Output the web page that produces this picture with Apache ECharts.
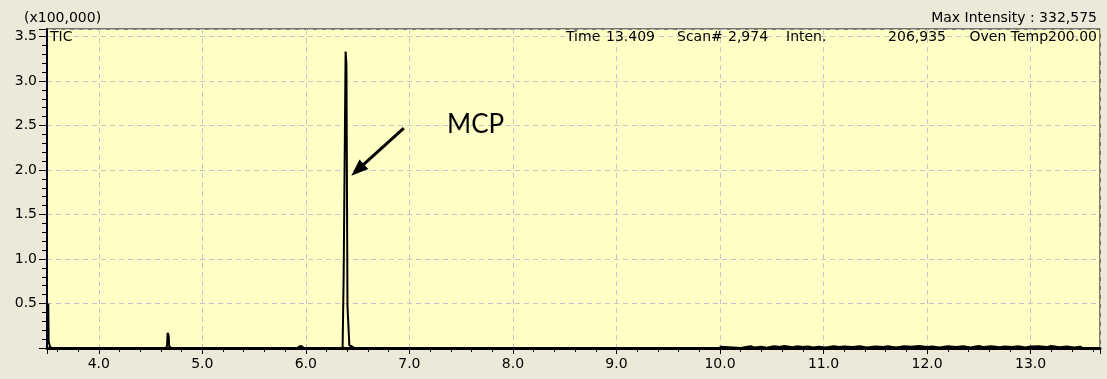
<!DOCTYPE html>
<html>
<head>
<meta charset="utf-8">
<script src="https://cdn.jsdelivr.net/npm/echarts@6/dist/echarts.min.js"></script>
<style>
html,body{margin:0;padding:0;background:#ECE9D8;}
#c{width:1107px;height:379px;}
</style>
</head>
<body>
<div id="c"></div>
<script>
// Retention time (min)
const times = [
  3.512, 3.516, 3.522, 3.530, 3.550, 3.800, 4.300, 4.600, 4.650, 4.660, 4.665, 4.670, 4.675, 4.680, 4.690, 4.700,
  5.500, 5.920, 5.940, 5.950, 5.960, 5.980, 6.355, 6.365, 6.375, 6.384, 6.392, 6.402, 6.412, 6.420, 6.440, 6.452,
  6.470, 7.000, 8.000, 9.990, 10.000, 10.010, 10.020, 10.200,
  10.210, 10.250, 10.300, 10.330, 10.400, 10.450, 10.520, 10.580, 10.620, 10.700, 10.750, 10.800, 10.850, 10.900, 10.950,
  11.020, 11.100, 11.150, 11.200, 11.280, 11.350, 11.420, 11.500, 11.580, 11.620, 11.700, 11.780, 11.850, 11.920,
  12.000, 12.050, 12.120, 12.200, 12.280, 12.350, 12.420, 12.500, 12.550, 12.620, 12.700, 12.750, 12.820, 12.880, 12.950,
  13.000, 13.080, 13.150, 13.200, 13.280, 13.350, 13.420, 13.480, 13.500, 13.670
];
// TIC intensity (x100,000)
const intensity = [
  0.500, 0.070, 0.065, 0.010, 0.000, 0.000, 0.000, 0.000, 0.002, 0.030, 0.170, 0.160, 0.140, 0.020, 0.002, 0.000,
  0.000, 0.000, 0.020, 0.030, 0.020, 0.000, 0.000, 0.800, 0.810, 3.330, 3.180, 0.470, 0.460, 0.030, 0.020, 0.000,
  0.000, 0.000, 0.000, 0.000, 0.015, 0.015, 0.000, 0.000,
  0.018, 0.010, 0.020, 0.005, 0.015, 0.004, 0.020, 0.012, 0.022, 0.008, 0.020, 0.010, 0.018, 0.006, 0.015,
  0.005, 0.020, 0.012, 0.018, 0.010, 0.020, 0.006, 0.018, 0.012, 0.020, 0.005, 0.020, 0.015, 0.022,
  0.010, 0.018, 0.006, 0.020, 0.012, 0.020, 0.006, 0.022, 0.010, 0.020, 0.008, 0.018, 0.012, 0.020, 0.006,
  0.018, 0.020, 0.010, 0.022, 0.008, 0.018, 0.006, 0.015, 0.000, 0.000
];
const headerLeft = 'TIC';
const headerWords = ['Time', '13.409', 'Scan#', '2,974', 'Inten.', '206,935', 'Oven Temp200.00'];
const topLeftText = '(x100,000)';
const topRightText = 'Max Intensity : 332,575';
const annotation = 'MCP';
const arrowFrom = [6.946, 2.47];
const arrowTo = [6.500, 2.000];

const points = times.map((t, i) => [t, intensity[i]]);
const FONT = 'DejaVu Sans';
const FS = 14;

const chart = echarts.init(document.getElementById('c'), null, {renderer: 'canvas'});
const txt = (x, y, s, align, size, fam) => ({
  type: 'text', x: x, y: y, z: 100,
  style: {text: s, fill: '#000', font: (size || FS) + 'px "' + (fam || FONT) + '"', textAlign: align || 'left', textVerticalAlign: 'middle'}
});
chart.setOption({
  backgroundColor: '#ECE9D8',
  animation: false,
  grid: {left: 47, right: 7, top: 29, bottom: 31, show: true, backgroundColor: '#FFFFC6', borderColor: '#000', borderWidth: 1},
  xAxis: {
    type: 'value', min: 3.5, max: 13.67, splitNumber: 10, minInterval: 1, maxInterval: 1,
    axisLine: {show: true, onZero: false, lineStyle: {color: '#000', width: 3}},
    axisTick: {show: true, length: 6, lineStyle: {color: '#000', width: 1}},
    minorTick: {show: true, splitNumber: 5, length: 4, lineStyle: {color: '#000', width: 1}},
    splitLine: {show: true, lineStyle: {color: '#C4C4CC', type: [5, 4], width: 1}},
    axisLabel: {color: '#000', fontFamily: FONT, fontSize: FS, margin: 9, showMinLabel: false, showMaxLabel: false,
      formatter: v => v.toFixed(1)}
  },
  yAxis: {
    type: 'value', min: 0, max: 3.584, splitNumber: 7, minInterval: 0.5, maxInterval: 0.5,
    axisLine: {show: true, onZero: false, lineStyle: {color: '#000020', width: 2}},
    axisTick: {show: true, length: 8, lineStyle: {color: '#000', width: 1}},
    minorTick: {show: true, splitNumber: 5, length: 5, lineStyle: {color: '#000', width: 1}},
    splitLine: {show: true, lineStyle: {color: '#C4C4CC', type: [5, 4], width: 1}},
    axisLabel: {color: '#000', fontFamily: FONT, fontSize: FS, margin: 10, showMinLabel: false, showMaxLabel: false,
      formatter: v => v.toFixed(1)}
  },
  series: [{
    type: 'line', data: points, showSymbol: false, symbol: 'none',
    lineStyle: {color: '#000', width: 2}, clip: true,
    markLine: {
      silent: true, symbol: ['none', 'triangle'], symbolSize: [13, 17], animation: false,
      lineStyle: {color: '#000', width: 3, type: 'solid'}, label: {show: false},
      data: [[{coord: arrowFrom}, {coord: arrowTo}]]
    }
  }],
  graphic: [
    txt(24, 18, topLeftText, 'left'),
    txt(1097, 18, topRightText, 'right'),
    txt(50, 37, headerLeft, 'left'),
    txt(566, 37, headerWords[0], 'left'),
    txt(606, 37, headerWords[1], 'left'),
    txt(677, 37, headerWords[2], 'left'),
    txt(728, 37, headerWords[3], 'left'),
    txt(786, 37, headerWords[4], 'left'),
    txt(946, 37, headerWords[5], 'right'),
    txt(1097, 37, headerWords[6], 'right'),
    txt(447, 125, annotation, 'left', 26, 'Lato')
  ]
});
</script>
</body>
</html>
